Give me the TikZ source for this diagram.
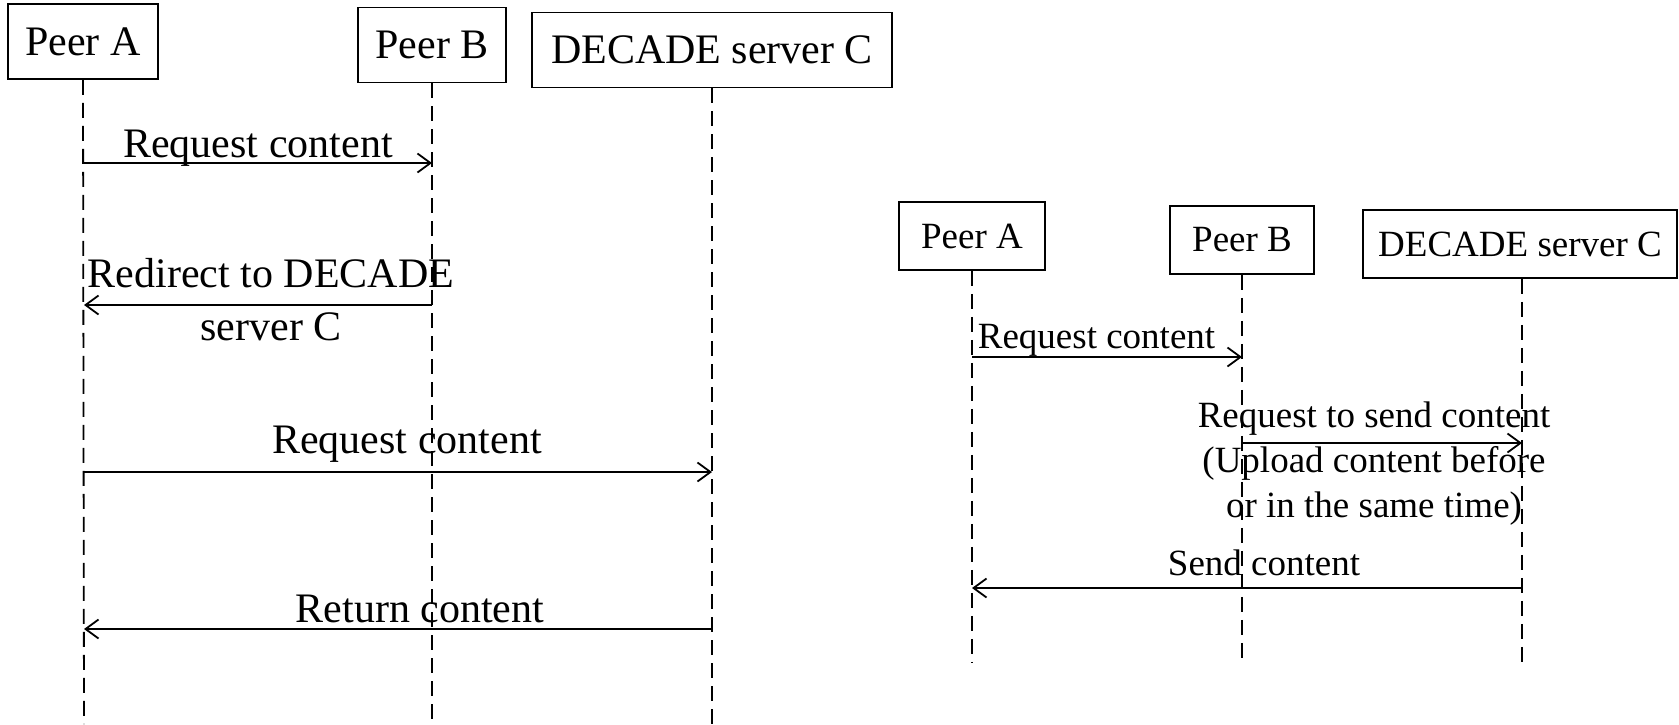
\documentclass[tikz,border=0pt]{standalone}
\usepackage{fontspec}
\setmainfont{Liberation Serif}
\usetikzlibrary{arrows.meta}

\begin{document}
\begin{tikzpicture}[x=0.5pt,y=-0.5pt,
   actor/.style={draw, line width=0.9pt, inner sep=0pt},
   bigtext/.style={font=\fontsize{21}{26.5}\selectfont},
   smalltext/.style={font=\fontsize{18.5}{22.5}\selectfont},
   life/.style={line width=0.9pt, dash pattern=on 7.5pt off 4pt},
   msg/.style={line width=0.9pt, -{Straight Barb[length=6.5pt,width=9.5pt]}},
   lbl/.style={anchor=base, inner sep=0pt}]
   \useasboundingbox (0,0) rectangle (1679,724);

   % left: redirect to the server
   \node[actor, bigtext, minimum width=75pt, minimum height=37.5pt] (la) at (83,41.5) {Peer A};
   \node[actor, bigtext, minimum width=74pt, minimum height=37.5pt] (lb) at (432,45) {Peer B};
   \node[actor, bigtext, minimum width=180pt, minimum height=37.5pt] (lc) at (712,50) {DECADE server C};

   \coordinate (laend) at (84,724);
   \coordinate (lbend) at (432,724);
   \coordinate (lcend) at (712,724);
   \draw[life] (la.south) -- (laend);
   \draw[life] (lb.south) -- (lbend);
   \draw[life] (lc.south) -- (lcend);

   \coordinate (la1) at (84,163);  \coordinate (lb1) at (432,163);
   \coordinate (la2) at (84,305);  \coordinate (lb2) at (432,305);
   \coordinate (la3) at (84,472);  \coordinate (lc3) at (712,472);
   \coordinate (la4) at (84,629);  \coordinate (lc4) at (712,629);

   \draw[msg] (la1) -- (lb1) node[midway, lbl, bigtext, yshift=3pt] {Request content};
   \draw[msg] (lb2) -- (la2) node[midway, bigtext, align=center, inner sep=0pt, xshift=6.5pt, yshift=2.5pt] {Redirect to DECADE\\server C};
   \draw[msg] (la3) -- (lc3) node[midway, lbl, bigtext, xshift=4.5pt, yshift=9.5pt] {Request content};
   \draw[msg] (lc4) -- (la4) node[midway, lbl, bigtext, xshift=11pt, yshift=3.5pt] {Return content};

   % right: server sends the content
   \node[actor, smalltext, minimum width=73pt, minimum height=34pt] (ra) at (972,236) {Peer A};
   \node[actor, smalltext, minimum width=72pt, minimum height=34pt] (rb) at (1242,240) {Peer B};
   \node[actor, smalltext, minimum width=157pt, minimum height=34pt] (rc) at (1520,244) {DECADE server C};

   \coordinate (raend) at (972,662);
   \coordinate (rbend) at (1242,662);
   \coordinate (rcend) at (1522,662);
   \draw[life] (ra.south) -- (raend);
   \draw[life] (rb.south) -- (rbend);
   \draw[life] (rc.south -| rcend) -- (rcend);

   \coordinate (ra1) at (972,357);  \coordinate (rb1) at (1242,357);
   \coordinate (rb2) at (1242,443); \coordinate (rc2) at (1522,443);
   \coordinate (ra3) at (972,588);  \coordinate (rc3) at (1522,588);

   \draw[msg] (ra1) -- (rb1) node[midway, lbl, smalltext, xshift=-5.25pt, yshift=4.5pt] {Request content};
   \draw[msg] (rb2) -- (rc2) node[midway, smalltext, align=center, inner sep=0pt, xshift=-4pt, yshift=-10.5pt] {Request to send content\\(Upload content before\\or in the same time)};
   \draw[msg] (rc3) -- (ra3) node[midway, lbl, smalltext, xshift=8.5pt, yshift=6.5pt] {Send content};

\end{tikzpicture}
\end{document}
